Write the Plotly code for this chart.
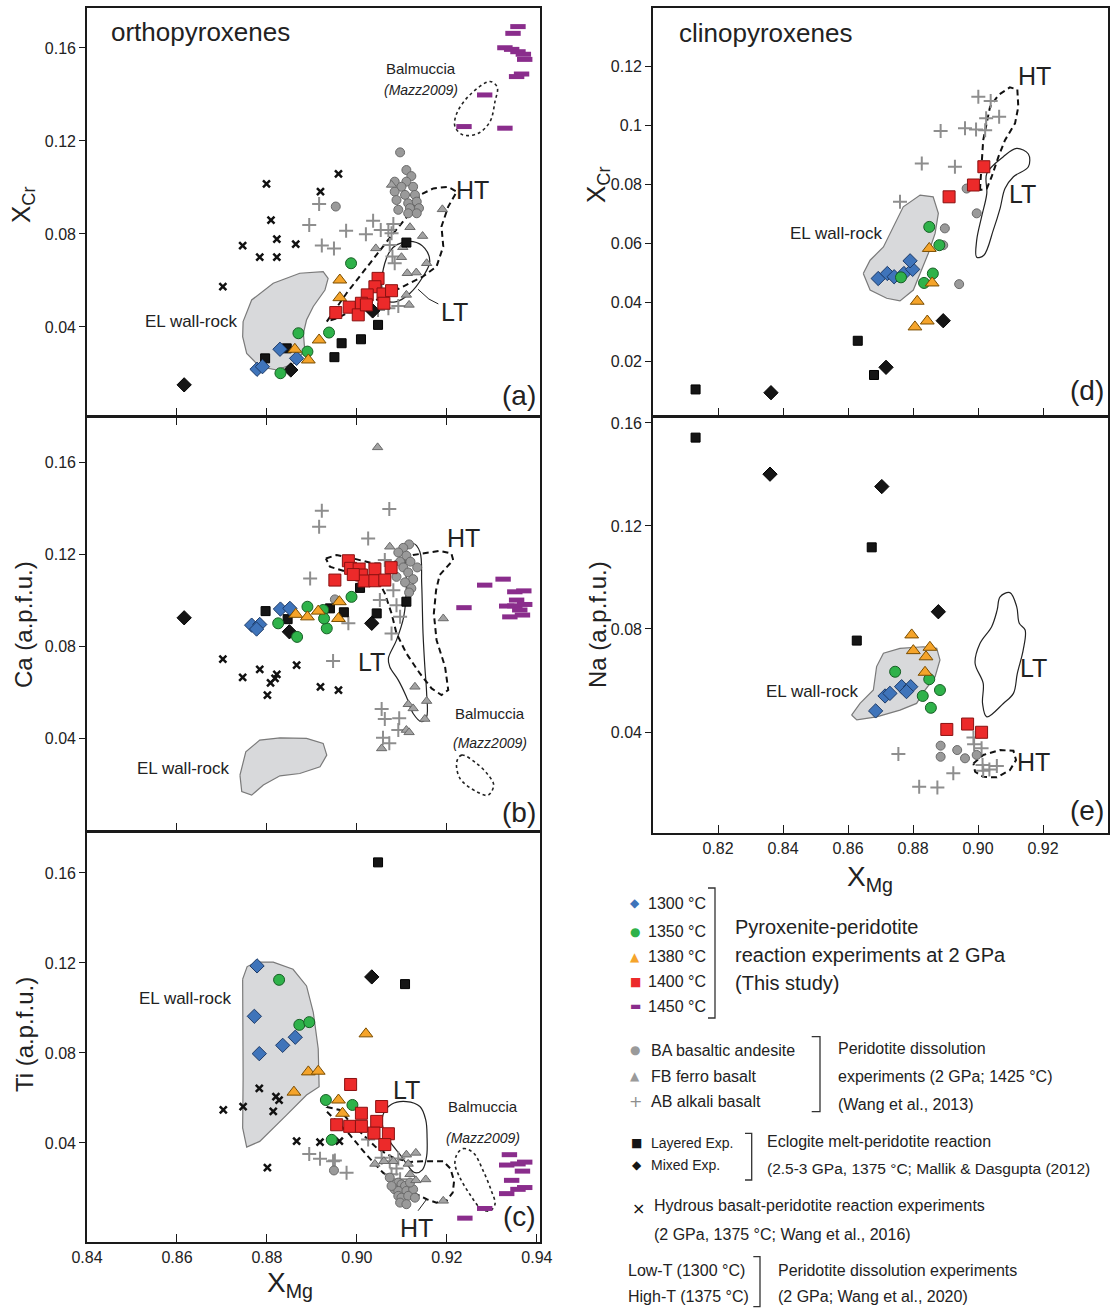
import plotly.graph_objects as go

FONT = "Liberation Sans, Arial, sans-serif"
SYMF = "DejaVu Sans, Liberation Sans, sans-serif"

# ---------------- panel (a): opx XCr vs XMg ----------------
a_1300 = [(0.8778,0.0218),(0.8790,0.0229),(0.8829,0.0304),(0.8866,0.0265)]
a_1350 = [(0.8987,0.0674),(0.8870,0.0373),(0.8938,0.0376),(0.8890,0.0294),(0.8830,0.0201)]
a_1380 = [(0.8962,0.0602),(0.8962,0.0526),(0.8916,0.0344),(0.8862,0.0304),(0.8892,0.0258)]
a_1400 = [(0.9047,0.0609),(0.9040,0.0573),(0.9023,0.0538),(0.9058,0.0542),(0.9077,0.0556),(0.9010,0.0502),
          (0.9060,0.0502),(0.8983,0.0485),(0.9003,0.0452),(0.8953,0.0462),(0.9021,0.0495)]
a_1450 = [(0.9358,0.1692),(0.9347,0.1663),(0.9329,0.1601),(0.9344,0.1594),(0.9358,0.1584),(0.9370,0.1573),
          (0.9373,0.1551),(0.9366,0.1488),(0.9355,0.1477),(0.9284,0.1398),(0.9238,0.1262),(0.9329,0.1255)]
a_BA = [(0.9096,0.1151),(0.9110,0.1075),(0.9121,0.1049),(0.9110,0.1025),(0.9084,0.1025),(0.9125,0.1003),
        (0.9099,0.1003),(0.9084,0.0982),(0.9107,0.0968),(0.9129,0.0968),(0.9088,0.0946),(0.9114,0.0932),
        (0.9133,0.0939),(0.9138,0.0911),(0.9118,0.0911),(0.9092,0.0904),(0.9114,0.0889),(0.9133,0.0889),
        (0.8953,0.0918)]
a_FB = [(0.9077,0.1011),(0.9190,0.0906),(0.9118,0.0829),(0.9146,0.0791),(0.9042,0.0738),(0.9102,0.0743),
        (0.9099,0.0700),(0.9112,0.0631),(0.9132,0.0634),(0.9110,0.0538),(0.9116,0.0495),(0.9155,0.0674)]
a_AB = [(0.8916,0.0929),(0.8894,0.0839),(0.8922,0.0750),(0.8949,0.0738),(0.8976,0.0814),(0.9020,0.0799),
        (0.9036,0.0857),(0.9053,0.0817),(0.9070,0.0817),(0.9081,0.0843),(0.9077,0.0803),(0.9073,0.0753),
        (0.9079,0.0703),(0.9084,0.0674),(0.9047,0.0473),(0.9070,0.0480),(0.9092,0.0490)]
a_lay = [(0.8796,0.0265),(0.8844,0.0308),(0.8966,0.0330),(0.9009,0.0347),(0.8950,0.0270),(0.9047,0.0409),
         (0.9110,0.0763)]
a_mix = [(0.8616,0.0151),(0.8853,0.0215),(0.9035,0.0469)]
a_hyd = [(0.8799,0.1015),(0.8959,0.1058),(0.8919,0.0982),(0.8809,0.0860),(0.8822,0.0778),(0.8746,0.0750),
         (0.8864,0.0756),(0.8784,0.0700),(0.8822,0.0700),(0.8702,0.0573)]
a_EL = [(0.8747,0.0423),(0.8766,0.0516),(0.8814,0.0588),(0.8873,0.0631),(0.8925,0.0638),(0.8936,0.0609),
        (0.8929,0.0559),(0.8903,0.0488),(0.8888,0.0430),(0.8881,0.0373),(0.8884,0.0301),(0.8862,0.0244),
        (0.8822,0.0215),(0.8784,0.0229),(0.8755,0.0286),(0.8746,0.0358)]
a_HT = [(0.8933,0.0423),(0.8977,0.0545),(0.9029,0.0674),(0.9081,0.0803),(0.9118,0.0889),(0.9140,0.0968),
        (0.9170,0.0996),(0.9203,0.1003),(0.9222,0.0982),(0.9203,0.0918),(0.9188,0.0832),(0.9192,0.0746),
        (0.9177,0.0660),(0.9147,0.0617),(0.9110,0.0581),(0.9073,0.0545),(0.9036,0.0509),(0.8992,0.0473),
        (0.8955,0.0437)]
a_LT = [(0.9088,0.0753),(0.9125,0.0767),(0.9151,0.0738),(0.9162,0.0681),(0.9147,0.0617),(0.9118,0.0545),
        (0.9088,0.0509),(0.9062,0.0516),(0.9055,0.0588),(0.9062,0.0674),(0.9073,0.0724)]
a_LT_lead = [(0.9136,0.0562),(0.9160,0.0520),(0.9181,0.0499)]
a_BAL = [(0.9222,0.1319),(0.9251,0.1398),(0.9296,0.1456),(0.9312,0.1431),(0.9307,0.1370),(0.9296,0.1284),
         (0.9270,0.1233),(0.9236,0.1226),(0.9218,0.1262)]

# ---------------- panel (b): opx Ca ----------------
b_1300 = [(0.8766,0.0891),(0.8784,0.0894),(0.8777,0.0874),(0.8830,0.0961),(0.8851,0.0964)]
b_1350 = [(0.8890,0.0971),(0.8925,0.0957),(0.8825,0.0899),(0.8867,0.0840),(0.8933,0.0877),(0.8988,0.1014),
          (0.8927,0.0920)]
b_1380 = [(0.8864,0.0938),(0.8890,0.0927),(0.8914,0.0952),(0.8961,0.0993),(0.8959,0.0920)]
b_1400 = [(0.8981,0.1171),(0.8986,0.1138),(0.9005,0.1135),(0.9040,0.1135),(0.9076,0.1141),(0.8951,0.1087),
          (0.9010,0.1109),(0.9016,0.1083),(0.9040,0.1084),(0.9062,0.1087),(0.8992,0.1111)]
b_1450 = [(0.9238,0.0967),(0.9284,0.1065),(0.9325,0.1091),(0.9351,0.1036),(0.9371,0.1040),(0.9355,0.1000),
          (0.9333,0.0974),(0.9351,0.0975),(0.9373,0.0981),(0.9362,0.0957),(0.9340,0.0927),(0.9368,0.0935)]
b_BA = [(0.9116,0.1242),(0.9103,0.1227),(0.9092,0.1207),(0.9110,0.1193),(0.9096,0.1167),(0.9119,0.1167),
        (0.9134,0.1142),(0.9103,0.1142),(0.9114,0.1120),(0.9088,0.1101),(0.9125,0.1091),(0.9107,0.1077),
        (0.9121,0.1051),(0.9116,0.1033),(0.8951,0.1003)]
b_FB = [(0.9046,0.1664),(0.9073,0.1232),(0.9192,0.0920),(0.9129,0.0623),(0.9114,0.0547),(0.9125,0.0529),
        (0.9155,0.0561),(0.9151,0.0483),(0.9110,0.0435),(0.9116,0.0425),(0.9055,0.0355)]
b_AB = [(0.8922,0.1388),(0.8916,0.1319),(0.9072,0.1396),(0.9025,0.1268),(0.8896,0.1094),(0.8981,0.0899),
        (0.8947,0.0735),(0.9081,0.1043),(0.9051,0.1000),(0.9088,0.0978),(0.9096,0.0927),(0.9077,0.0855),
        (0.9055,0.0526),(0.9062,0.0483),(0.9094,0.0486),(0.9092,0.0435),(0.9058,0.0401),(0.9072,0.0377),
        (0.9062,0.1174)]
b_lay = [(0.8797,0.0952),(0.8846,0.0917),(0.8940,0.0964),(0.8971,0.0947),(0.9007,0.1053),(0.9044,0.0942),
         (0.9110,0.0993)]
b_mix = [(0.8616,0.0923),(0.8850,0.0862),(0.9033,0.0899)]
b_hyd = [(0.8702,0.0743),(0.8746,0.0664),(0.8784,0.0699),(0.8822,0.0677),(0.8808,0.0640),(0.8818,0.0660),
         (0.8801,0.0587),(0.8866,0.0717),(0.8919,0.0623),(0.8959,0.0609)]
b_EL = [(0.8740,0.0239),(0.8753,0.0340),(0.8784,0.0391),(0.8829,0.0401),(0.8888,0.0399),(0.8925,0.0377),
        (0.8933,0.0326),(0.8918,0.0275),(0.8873,0.0246),(0.8829,0.0236),(0.8792,0.0196),(0.8766,0.0152),
        (0.8744,0.0167)]
b_HT = [(0.8931,0.1181),(0.8955,0.1196),(0.8992,0.1181),(0.9036,0.1159),(0.9073,0.1159),(0.9125,0.1196),
        (0.9184,0.1214),(0.9210,0.1203),(0.9214,0.1174),(0.9184,0.1109),(0.9176,0.1043),(0.9171,0.0942),
        (0.9177,0.0826),(0.9196,0.0710),(0.9203,0.0609),(0.9188,0.0587),(0.9166,0.0616),(0.9140,0.0681),
        (0.9110,0.0768),(0.9088,0.0855),(0.9077,0.0942),(0.9062,0.1029),(0.9051,0.1072),(0.9021,0.1094),
        (0.8977,0.1123),(0.8940,0.1145)]
b_LT = [(0.9107,0.1217),(0.9125,0.1246),(0.9140,0.1210),(0.9144,0.1072),(0.9147,0.0855),(0.9151,0.0710),
        (0.9155,0.0594),(0.9155,0.0493),(0.9144,0.0471),(0.9125,0.0507),(0.9110,0.0580),(0.9092,0.0652),
        (0.9073,0.0710),(0.9070,0.0747),(0.9088,0.0826),(0.9104,0.0927),(0.9110,0.1072),(0.9107,0.1174)]
b_BAL = [(0.9222,0.0297),(0.9233,0.0326),(0.9266,0.0290),(0.9292,0.0239),(0.9304,0.0196),(0.9292,0.0152),
         (0.9266,0.0167),(0.9229,0.0225)]

# ---------------- panel (c): opx Ti ----------------
c_1300 = [(0.8778,0.1187),(0.8772,0.0963),(0.8835,0.0834),(0.8863,0.0870),(0.8783,0.0797)]
c_1350 = [(0.8827,0.1125),(0.8872,0.0925),(0.8894,0.0937),(0.8931,0.0591),(0.8990,0.0569),(0.8944,0.0414)]
c_1380 = [(0.9020,0.0885),(0.8892,0.0716),(0.8914,0.0719),(0.8860,0.0626),(0.8959,0.0591),(0.8968,0.0532)]
c_1400 = [(0.8986,0.0660),(0.9055,0.0562),(0.9010,0.0532),(0.9044,0.0496),(0.8955,0.0481),(0.8984,0.0474),
          (0.9010,0.0474),(0.9038,0.0444),(0.9070,0.0441),(0.9062,0.0393)]
c_1450 = [(0.9339,0.0348),(0.9333,0.0302),(0.9358,0.0307),(0.9373,0.0315),(0.9368,0.0275),(0.9344,0.0234),
          (0.9373,0.0202),(0.9358,0.0194),(0.9333,0.0175),(0.9284,0.0109),(0.9240,0.0066)]
c_BA = [(0.8949,0.0278),(0.9073,0.0246),(0.9092,0.0224),(0.9099,0.0216),(0.9107,0.0209),(0.9084,0.0194),
        (0.9092,0.0187),(0.9110,0.0187),(0.9125,0.0194),(0.9092,0.0165),(0.9099,0.0157),(0.9114,0.0165),
        (0.9096,0.0135),(0.9110,0.0128),(0.9129,0.0157),(0.9077,0.0209),(0.9118,0.0224)]
c_FB = [(0.9040,0.0307),(0.9060,0.0319),(0.9110,0.0348),(0.9131,0.0356),(0.9114,0.0307),(0.9131,0.0234),
        (0.9153,0.0238),(0.9192,0.0143),(0.9081,0.0319),(0.9118,0.0261)]
c_AB = [(0.8894,0.0351),(0.8918,0.0330),(0.8951,0.0322),(0.8977,0.0268),(0.9025,0.0415),(0.9073,0.0319),
        (0.9092,0.0331),(0.9088,0.0287),(0.9077,0.0261),(0.9096,0.0239),(0.9055,0.0334),(0.8947,0.0319)]
c_lay = [(0.9047,0.1647),(0.9107,0.1106)]
c_mix = [(0.9033,0.1138)]
c_hyd = [(0.8783,0.0643),(0.8820,0.0606),(0.8827,0.0591),(0.8703,0.0547),(0.8747,0.0562),(0.8814,0.0540),
         (0.8866,0.0408),(0.8918,0.0404),(0.8961,0.0408),(0.8801,0.0290)]
c_EL = [(0.8746,0.1128),(0.8756,0.1184),(0.8777,0.1204),(0.8814,0.1204),(0.8858,0.1172),(0.8888,0.1098),
        (0.8903,0.0981),(0.8914,0.0819),(0.8916,0.0650),(0.8888,0.0613),(0.8844,0.0525),(0.8784,0.0407),
        (0.8755,0.0382),(0.8746,0.0467),(0.8747,0.0687),(0.8747,0.0907)]
c_HT = [(0.8933,0.0560),(0.8962,0.0547),(0.8984,0.0494),(0.9014,0.0437),(0.9044,0.0378),(0.9081,0.0334),
        (0.9118,0.0316),(0.9155,0.0319),(0.9192,0.0319),(0.9208,0.0286),(0.9216,0.0231),(0.9213,0.0179),
        (0.9199,0.0143),(0.9177,0.0135),(0.9155,0.0150),(0.9133,0.0172),(0.9096,0.0216),(0.9058,0.0268),
        (0.9021,0.0348),(0.8984,0.0437),(0.8947,0.0510),(0.8933,0.0540)]
c_LT = [(0.9058,0.0525),(0.9077,0.0572),(0.9110,0.0584),(0.9140,0.0562),(0.9153,0.0503),(0.9156,0.0422),
        (0.9155,0.0341),(0.9146,0.0282),(0.9129,0.0268),(0.9114,0.0297),(0.9096,0.0348),(0.9073,0.0407),
        (0.9058,0.0466)]
c_HT_lead = [(0.9136,0.0099),(0.9155,0.0150)]
c_BAL = [(0.9222,0.0348),(0.9236,0.0375),(0.9259,0.0356),(0.9281,0.0275),(0.9299,0.0187),(0.9307,0.0128),
         (0.9296,0.0099),(0.9277,0.0106),(0.9251,0.0172),(0.9229,0.0246),(0.9218,0.0305)]

# ---------------- panel (d): cpx XCr ----------------
d_1300 = [(0.8693,0.0480),(0.8721,0.0497),(0.8742,0.0486),(0.8772,0.0497),(0.8799,0.0511),(0.8791,0.0540)]
d_1350 = [(0.8850,0.0655),(0.8881,0.0593),(0.8861,0.0497),(0.8834,0.0465),(0.8763,0.0484)]
d_1380 = [(0.8850,0.0582),(0.8859,0.0465),(0.8813,0.0403),(0.8844,0.0336),(0.8806,0.0316)]
d_1400 = [(0.8911,0.0757),(0.8986,0.0797),(0.9018,0.0859)]
d_BA = [(0.8898,0.0650),(0.8893,0.0593),(0.8942,0.0461),(0.8996,0.0701),(0.8965,0.0785)]
d_AB = [(0.8760,0.0740),(0.8827,0.0870),(0.8929,0.0859),(0.8885,0.0980),(0.8960,0.0989),(0.8994,0.0985),
        (0.9022,0.0983),(0.9001,0.1096),(0.9039,0.1082),(0.9025,0.1023),(0.9065,0.1028)]
d_lay = [(0.8131,0.0104),(0.8630,0.0269),(0.8680,0.0153)]
d_mix = [(0.8363,0.0093),(0.8717,0.0179),(0.8893,0.0337)]
d_EL = [(0.8647,0.0497),(0.8668,0.0542),(0.8709,0.0587),(0.8740,0.0655),(0.8770,0.0723),(0.8822,0.0763),
        (0.8862,0.0757),(0.8878,0.0701),(0.8868,0.0633),(0.8847,0.0565),(0.8822,0.0497),(0.8801,0.0441),
        (0.8760,0.0404),(0.8719,0.0413),(0.8668,0.0441)]
d_HT = [(0.9006,0.0780),(0.9011,0.0870),(0.9016,0.0949),(0.9037,0.1062),(0.9063,0.1102),(0.9098,0.1128),
        (0.9121,0.1121),(0.9124,0.1062),(0.9114,0.1006),(0.9083,0.0949),(0.9063,0.0893),(0.9042,0.0825),
        (0.9027,0.0785)]
d_LT = [(0.9027,0.0836),(0.9078,0.0893),(0.9119,0.0921),(0.9155,0.0902),(0.9155,0.0859),(0.9109,0.0825),
        (0.9083,0.0785),(0.9068,0.0718),(0.9047,0.0644),(0.9018,0.0559),(0.8996,0.0552),(0.8996,0.0610),
        (0.9011,0.0689),(0.9027,0.0768)]

# ---------------- panel (e): cpx Na ----------------
e_1300 = [(0.8685,0.0482),(0.8714,0.0540),(0.8729,0.0550),(0.8765,0.0576),(0.8793,0.0576),(0.8780,0.0557)]
e_1350 = [(0.8745,0.0634),(0.8850,0.0605),(0.8883,0.0563),(0.8830,0.0540),(0.8855,0.0494)]
e_1380 = [(0.8796,0.0777),(0.8801,0.0716),(0.8852,0.0729),(0.8840,0.0692),(0.8837,0.0632)]
e_1400 = [(0.8904,0.0410),(0.8968,0.0431),(0.9011,0.0399)]
e_BA = [(0.8885,0.0347),(0.8885,0.0304),(0.8936,0.0330),(0.8960,0.0298),(0.8996,0.0311)]
e_AB = [(0.8755,0.0315),(0.8819,0.0188),(0.8875,0.0185),(0.8924,0.0240),(0.8986,0.0379),(0.8988,0.0353),
        (0.9011,0.0337),(0.9014,0.0272),(0.9035,0.0255),(0.9058,0.0268),(0.9016,0.0250)]
e_lay = [(0.8131,0.1543),(0.8673,0.1117),(0.8627,0.0755)]
e_mix = [(0.8360,0.1401),(0.8704,0.1353),(0.8878,0.0867)]
e_EL = [(0.8611,0.0466),(0.8637,0.0511),(0.8678,0.0563),(0.8688,0.0654),(0.8709,0.0706),(0.8760,0.0725),
        (0.8832,0.0731),(0.8873,0.0725),(0.8883,0.0680),(0.8868,0.0615),(0.8837,0.0563),(0.8811,0.0511),
        (0.8760,0.0485),(0.8688,0.0459),(0.8627,0.0447)]
e_LT = [(0.9068,0.0925),(0.9098,0.0941),(0.9119,0.0887),(0.9127,0.0822),(0.9145,0.0796),(0.9139,0.0718),
        (0.9121,0.0628),(0.9109,0.0550),(0.9078,0.0511),(0.9027,0.0459),(0.9014,0.0511),(0.9016,0.0589),
        (0.8991,0.0667),(0.9006,0.0744),(0.9042,0.0809),(0.9059,0.0874)]
e_HT = [(0.8986,0.0278),(0.9016,0.0311),(0.9068,0.0330),(0.9109,0.0327),(0.9117,0.0291),(0.9098,0.0252),
        (0.9058,0.0224),(0.9016,0.0226),(0.8991,0.0246)]

# ---------------- tick labels ----------------
left_x_ticks = [0.84, 0.86, 0.88, 0.90, 0.92, 0.94]
left_x_labels = ["0.84", "0.86", "0.88", "0.90", "0.92", "0.94"]
left_y_ticks = [0.04, 0.08, 0.12, 0.16]
left_y_labels = ["0.04", "0.08", "0.12", "0.16"]
right_x_ticks = [0.82, 0.84, 0.86, 0.88, 0.90, 0.92]
right_x_labels = ["0.82", "0.84", "0.86", "0.88", "0.90", "0.92"]
d_y_ticks = [0.02, 0.04, 0.06, 0.08, 0.10, 0.12]
d_y_labels = ["0.02", "0.04", "0.06", "0.08", "0.1", "0.12"]
e_y_ticks = [0.04, 0.08, 0.12, 0.16]
e_y_labels = ["0.04", "0.08", "0.12", "0.16"]

# ---------------- styles ----------------
STYLE = {
    "1300": dict(symbol="diamond", size=11, color="#3f74ba", line=dict(color="#1d3b68", width=1)),
    "1350": dict(symbol="circle", size=11, color="#2fb24a", line=dict(color="#175f25", width=1)),
    "1380": dict(symbol="triangle-up", size=12, color="#f5a42a", line=dict(color="#7a4d00", width=1)),
    "1400": dict(symbol="square", size=12, color="#ec2a2a", line=dict(color="#8a1111", width=1)),
    "1450": dict(symbol="line-ew", size=11, color="#8a2d8c", line=dict(color="#8a2d8c", width=5)),
    "BA": dict(symbol="circle", size=9, color="#9a9a9a", line=dict(color="#6a6a6a", width=1)),
    "FB": dict(symbol="triangle-up", size=9, color="#a3a3a3", line=dict(color="#6a6a6a", width=1)),
    "AB": dict(symbol="cross-thin", size=10, color="#8e8e8e", line=dict(color="#8e8e8e", width=2)),
    "lay": dict(symbol="square", size=9, color="#151515", line=dict(color="#000000", width=1)),
    "mix": dict(symbol="diamond", size=11, color="#151515", line=dict(color="#000000", width=1)),
    "hyd": dict(symbol="x-thin", size=7, color="#111111", line=dict(color="#111111", width=2.5)),
}
ORDER = ["AB", "hyd", "BA", "FB", "lay", "mix", "1450", "1300", "1350", "1380", "1400"]


def xy(pts):
    return [p[0] for p in pts], [p[1] for p in pts]


fig = go.Figure()


def add_poly(pts, xa, ya, kind):
    xs, ys = xy(pts + pts[:1])
    if kind == "EL":
        fig.add_trace(go.Scatter(x=xs, y=ys, xaxis=xa, yaxis=ya, mode="lines", fill="toself",
                                 fillcolor="#d8d9db", line=dict(color="#7a7a7a", width=1.2),
                                 hoverinfo="skip", showlegend=False))
    elif kind == "HT":
        fig.add_trace(go.Scatter(x=xs, y=ys, xaxis=xa, yaxis=ya, mode="lines",
                                 line=dict(color="#111", width=2, dash="6px,4px"),
                                 hoverinfo="skip", showlegend=False))
    elif kind == "LT":
        fig.add_trace(go.Scatter(x=xs, y=ys, xaxis=xa, yaxis=ya, mode="lines",
                                 line=dict(color="#222", width=1.2), line_shape="spline",
                                 hoverinfo="skip", showlegend=False))
    elif kind == "BAL":
        fig.add_trace(go.Scatter(x=xs, y=ys, xaxis=xa, yaxis=ya, mode="lines",
                                 line=dict(color="#222", width=1.6, dash="dot"), line_shape="spline",
                                 hoverinfo="skip", showlegend=False))


def add_line(pts, xa, ya):
    xs, ys = xy(pts)
    fig.add_trace(go.Scatter(x=xs, y=ys, xaxis=xa, yaxis=ya, mode="lines",
                             line=dict(color="#222", width=1), hoverinfo="skip", showlegend=False))


def add_points(series, xa, ya):
    for key in ORDER:
        if key not in series:
            continue
        xs, ys = xy(series[key])
        st = STYLE[key]
        fig.add_trace(go.Scatter(x=xs, y=ys, xaxis=xa, yaxis=ya, mode="markers",
                                 marker=dict(symbol=st["symbol"], size=st["size"], color=st["color"],
                                             line=st["line"]),
                                 showlegend=False))


panels = [
    ("x", "y", dict(EL=a_EL, HT=a_HT, LT=a_LT, BAL=a_BAL),
     {"1300": a_1300, "1350": a_1350, "1380": a_1380, "1400": a_1400, "1450": a_1450,
      "BA": a_BA, "FB": a_FB, "AB": a_AB, "lay": a_lay, "mix": a_mix, "hyd": a_hyd}),
    ("x2", "y2", dict(EL=b_EL, HT=b_HT, LT=b_LT, BAL=b_BAL),
     {"1300": b_1300, "1350": b_1350, "1380": b_1380, "1400": b_1400, "1450": b_1450,
      "BA": b_BA, "FB": b_FB, "AB": b_AB, "lay": b_lay, "mix": b_mix, "hyd": b_hyd}),
    ("x3", "y3", dict(EL=c_EL, HT=c_HT, LT=c_LT, BAL=c_BAL),
     {"1300": c_1300, "1350": c_1350, "1380": c_1380, "1400": c_1400, "1450": c_1450,
      "BA": c_BA, "FB": c_FB, "AB": c_AB, "lay": c_lay, "mix": c_mix, "hyd": c_hyd}),
    ("x4", "y4", dict(EL=d_EL, HT=d_HT, LT=d_LT),
     {"1300": d_1300, "1350": d_1350, "1380": d_1380, "1400": d_1400,
      "BA": d_BA, "AB": d_AB, "lay": d_lay, "mix": d_mix}),
    ("x5", "y5", dict(EL=e_EL, HT=e_HT, LT=e_LT),
     {"1300": e_1300, "1350": e_1350, "1380": e_1380, "1400": e_1400,
      "BA": e_BA, "AB": e_AB, "lay": e_lay, "mix": e_mix}),
]

for xa, ya, polys, series in panels:
    for kind in ["EL", "BAL", "LT", "HT"]:
        if kind in polys:
            add_poly(polys[kind], xa, ya, kind)
    add_points(series, xa, ya)

add_line(a_LT_lead, "x", "y")
add_line(c_HT_lead, "x3", "y3")

# ---------------- axes ----------------
W, H = 1110, 1312


def px_dom_x(a, b):
    return [a / W, b / W]


def px_dom_y(top, bot):
    return [1 - bot / H, 1 - top / H]


AX = dict(showline=True, mirror=True, linecolor="#1a1a1a", linewidth=1.6, showgrid=False, zeroline=False,
          automargin=False, tickcolor="#1a1a1a", tickwidth=1.4,
          tickfont=dict(family=FONT, size=16, color="#222"))

LX = px_dom_x(87, 540)
RX = px_dom_x(653, 1108)
layout_axes = dict(
    xaxis=dict(AX, domain=LX, range=[0.84, 0.9407], anchor="y", tickvals=left_x_ticks[1:5],
               showticklabels=False, ticks="inside", ticklen=8),
    yaxis=dict(AX, domain=px_dom_y(8, 416), range=[0.0017, 0.1772], anchor="x", tickvals=left_y_ticks,
               ticktext=left_y_labels, ticks="outside", ticklen=6),
    xaxis2=dict(AX, domain=LX, range=[0.84, 0.9407], anchor="y2", tickvals=left_x_ticks[1:5],
                showticklabels=False, ticks="inside", ticklen=8, mirror="ticks"),
    yaxis2=dict(AX, domain=px_dom_y(417, 831), range=[-0.0004, 0.1796], anchor="x2", tickvals=left_y_ticks,
                ticktext=left_y_labels, ticks="outside", ticklen=6),
    xaxis3=dict(AX, domain=LX, range=[0.84, 0.9407], anchor="y3", tickvals=left_x_ticks,
                ticktext=left_x_labels, ticks="inside", ticklen=8),
    yaxis3=dict(AX, domain=px_dom_y(832, 1242), range=[-0.0040, 0.1782], anchor="x3", tickvals=left_y_ticks,
                ticktext=left_y_labels, ticks="outside", ticklen=6),
    xaxis4=dict(AX, domain=RX, range=[0.80, 0.94], anchor="y4", tickvals=right_x_ticks,
                showticklabels=False, ticks="inside", ticklen=8),
    yaxis4=dict(AX, domain=px_dom_y(8, 416), range=[0.0014, 0.1397], anchor="x4", tickvals=d_y_ticks,
                ticktext=d_y_labels, ticks="outside", ticklen=6),
    xaxis5=dict(AX, domain=RX, range=[0.80, 0.94], anchor="y5", tickvals=right_x_ticks,
                ticktext=right_x_labels, ticks="inside", ticklen=8),
    yaxis5=dict(AX, domain=px_dom_y(417, 833), range=[0.0008, 0.1623], anchor="x5", tickvals=e_y_ticks,
                ticktext=e_y_labels, ticks="outside", ticklen=6),
)

fig.update_layout(template="none", width=W, height=H, margin=dict(l=0, r=0, t=0, b=0, pad=0),
                  paper_bgcolor="white", plot_bgcolor="white", showlegend=False,
                  font=dict(family=FONT, color="#222"), **layout_axes)

ann = []


def txt(x, y, text, size, xref="paper", yref="paper", xanchor="center", yanchor="middle", angle=0,
        color="#222", family=FONT):
    ann.append(dict(x=x, y=y, xref=xref, yref=yref, text=text, showarrow=False, xanchor=xanchor,
                    yanchor=yanchor, textangle=angle, font=dict(family=family, size=size, color=color)))


# in-panel labels (data coordinates)
txt(0.9257, 0.0989, "HT", 25, "x", "y")
txt(0.9218, 0.0466, "LT", 25, "x", "y")
txt(0.8631, 0.0423, "EL wall-rock", 17, "x", "y")
txt(0.9142, 0.1513, "Balmuccia", 15, "x", "y")
txt(0.9142, 0.1419, "<i>(Mazz2009)</i>", 14, "x", "y")

txt(0.9236, 0.1268, "HT", 25, "x2", "y2")
txt(0.9033, 0.0732, "LT", 25, "x2", "y2")
txt(0.8614, 0.0268, "EL wall-rock", 17, "x2", "y2")
txt(0.9296, 0.0507, "Balmuccia", 15, "x2", "y2")
txt(0.9296, 0.0377, "<i>(Mazz2009)</i>", 14, "x2", "y2")

txt(0.9110, 0.0636, "LT", 25, "x3", "y3")
txt(0.9133, 0.0022, "HT", 25, "x3", "y3")
txt(0.8618, 0.1043, "EL wall-rock", 17, "x3", "y3")
txt(0.9281, 0.0561, "Balmuccia", 15, "x3", "y3")
txt(0.9281, 0.0421, "<i>(Mazz2009)</i>", 14, "x3", "y3")

txt(0.9175, 0.1166, "HT", 25, "x4", "y4")
txt(0.9138, 0.0768, "LT", 25, "x4", "y4")
txt(0.8562, 0.0633, "EL wall-rock", 17, "x4", "y4")

txt(0.9170, 0.0647, "LT", 25, "x5", "y5")
txt(0.9170, 0.0285, "HT", 25, "x5", "y5")
txt(0.8488, 0.0557, "EL wall-rock", 17, "x5", "y5")

# panel titles and letters (domain coordinates)
txt(0.048, 0.942, "orthopyroxenes", 26, "x domain", "y domain", xanchor="left")
txt(0.053, 0.939, "clinopyroxenes", 26, "x4 domain", "y4 domain", xanchor="left")
txt(0.995, 0.05, "(a)", 28, "x domain", "y domain", xanchor="right")
txt(0.995, 0.045, "(b)", 28, "x2 domain", "y2 domain", xanchor="right")
txt(0.995, 0.062, "(c)", 28, "x3 domain", "y3 domain", xanchor="right")
txt(0.995, 0.062, "(d)", 28, "x4 domain", "y4 domain", xanchor="right")
txt(0.995, 0.055, "(e)", 28, "x5 domain", "y5 domain", xanchor="right")

# axis titles
txt(22 / W, 1 - 205 / H, "X<sub>Cr</sub>", 26, angle=-90)
txt(24 / W, 1 - 625 / H, "Ca (a.p.f.u.)", 24, angle=-90)
txt(24 / W, 1 - 1035 / H, "Ti (a.p.f.u.)", 24, angle=-90)
txt(598 / W, 1 - 185 / H, "X<sub>Cr</sub>", 26, angle=-90)
txt(598 / W, 1 - 625 / H, "Na (a.p.f.u.)", 24, angle=-90)
txt(290 / W, 1 - 1284 / H, "X<sub>Mg</sub>", 28)
txt(870 / W, 1 - 878 / H, "X<sub>Mg</sub>", 28)

# ---------------- custom legend ----------------
def P(px, py):
    return px / W, 1 - py / H


leg1 = [("◆", "#3f74ba", "1300 °C", 903), ("●", "#2fb24a", "1350 °C", 931.5),
        ("▲", "#f5a42a", "1380 °C", 956.5), ("■", "#ec2a2a", "1400 °C", 981.5),
        ("▬", "#8a2d8c", "1450 °C", 1006.5)]
for sym, col, lab, py in leg1:
    x, y = P(635, py)
    txt(x, y, sym, 12, color=col, family=SYMF)
    x, y = P(646, py)
    txt(x, y, lab, 16, xanchor="left")
for i, line in enumerate(["Pyroxenite-peridotite", "reaction experiments at 2 GPa", "(This study)"]):
    x, y = P(733, 926.7 + i * 28.3)
    txt(x, y, line, 20, xanchor="left")

leg2 = [("●", "#9a9a9a", "BA basaltic andesite", 1050), ("▲", "#9a9a9a", "FB ferro basalt", 1076),
        ("+", "#8e8e8e", "AB alkali basalt", 1101)]
for sym, col, lab, py in leg2:
    x, y = P(635, py)
    txt(x, y, sym, 12 if sym != "+" else 16, color=col, family=SYMF)
    x, y = P(649, py)
    txt(x, y, lab, 16, xanchor="left")
for i, line in enumerate(["Peridotite dissolution", "experiments (2 GPa; 1425 °C)", "(Wang et al., 2013)"]):
    x, y = P(836, 1048.3 + i * 28.3)
    txt(x, y, line, 16, xanchor="left")

leg3 = [("■", "#151515", "Layered Exp.", 1143.3), ("◆", "#151515", "Mixed Exp.", 1165)]
for sym, col, lab, py in leg3:
    x, y = P(636.5, py)
    txt(x, y, sym, 12, color=col, family=SYMF)
    x, y = P(649, py)
    txt(x, y, lab, 14, xanchor="left")
x, y = P(765, 1141)
txt(x, y, "Eclogite melt-peridotite reaction", 16, xanchor="left")
x, y = P(765, 1168.3)
txt(x, y, "(2.5-3 GPa, 1375 °C; Mallik & Dasgupta (2012)", 15.5, xanchor="left")

x, y = P(638, 1208)
txt(x, y, "×", 16, color="#111", family=SYMF)
x, y = P(652, 1205)
txt(x, y, "Hydrous basalt-peridotite reaction experiments", 16, xanchor="left")
x, y = P(652, 1234.3)
txt(x, y, "(2 GPa, 1375 °C; Wang et al., 2016)", 16, xanchor="left")

x, y = P(626, 1270)
txt(x, y, "Low-T (1300 °C)", 16, xanchor="left")
x, y = P(626, 1296.7)
txt(x, y, "High-T (1375 °C)", 16, xanchor="left")
x, y = P(776, 1270)
txt(x, y, "Peridotite dissolution experiments", 16, xanchor="left")
x, y = P(776, 1296.7)
txt(x, y, "(2 GPa; Wang et al., 2020)", 16, xanchor="left")

fig.update_layout(annotations=ann)

# legend brackets
brackets = [(708, 715, 888, 1018), (811.7, 820, 1036.7, 1111.7), (745, 751.7, 1133.3, 1180),
            (753.3, 760, 1256.7, 1306.7)]
shapes = []
for x0, x1, y0, y1 in brackets:
    ax0, ay0 = P(x0, y0)
    ax1, ay1 = P(x1, y1)
    shapes.append(dict(type="path", xref="paper", yref="paper",
                       path=f"M {ax0},{ay0} L {ax1},{ay0} L {ax1},{ay1} L {ax0},{ay1}",
                       line=dict(color="#333", width=1.3)))
fig.update_layout(shapes=shapes)

fig.write_html("out.html", config={"displayModeBar": False},
               post_script="document.body.style.margin='0';document.body.style.overflow='hidden';")
